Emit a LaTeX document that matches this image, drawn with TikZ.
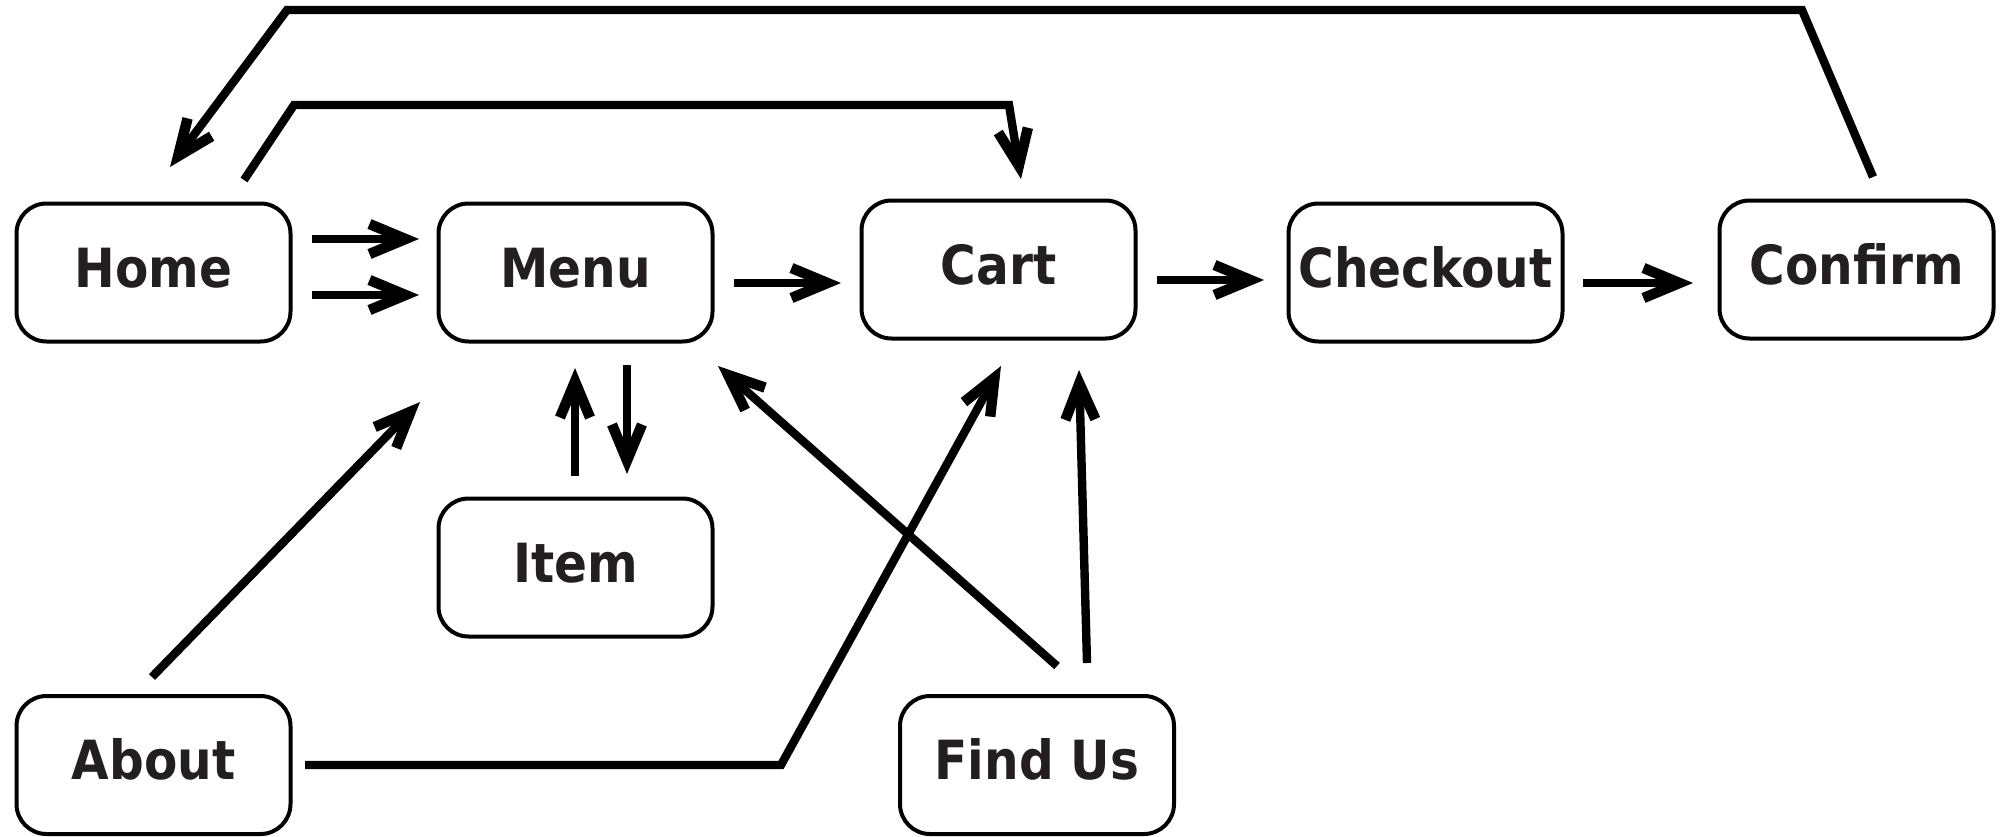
\documentclass[tikz,border=0pt]{standalone}
\usepackage{fontspec}
\usetikzlibrary{arrows.meta,calc}
\newfontfamily\lblfont{DejaVu Sans}[FakeStretch=0.9]
\definecolor{txt}{HTML}{231F20}
\begin{document}
\begin{tikzpicture}[x=0.5pt,y=-0.5pt,
  box/.style={draw=black,line width=2pt,rounded corners=15pt,
    minimum width=137pt,minimum height=69pt,inner sep=0pt,
    text height=20pt,text depth=5.5pt,text=txt,
    font=\lblfont\bfseries\fontsize{27}{30}\selectfont},
  arr/.style={line width=4.2pt,line join=miter,
    -{Straight Barb[length=18pt,width=15pt,line width=5.2pt]}}]
\useasboundingbox (0,0) rectangle (2002,836);
\node[box] (home) at (153.5,272.5) {Home};
\node[box] (menu) at (575.5,272.5) {Menu};
\node[box] (cart) at (998.5,269.5) {Cart};
\node[box] (checkout) at (1425.5,272.5) {Checkout};
\node[box] (confirm) at (1856.5,269.5) {Confirm};
\node[box] (item) at (575.5,567.5) {Item};
\node[box] (about) at (153.5,765) {About};
\node[box] (findus) at (1037,765) {Find Us};
% horizontal flow
\draw[arr] ($(home)+(158.5,-33.5)$) -- ($(menu)+(-156.5,-33.5)$);
\draw[arr] ($(home)+(158.5,22.5)$) -- ($(menu)+(-156.5,22.5)$);
\draw[arr] ($(menu)+(158.5,10.5)$) -- ($(cart)+(-157.5,13.5)$);
\draw[arr] ($(cart)+(158.5,10.5)$) -- ($(checkout)+(-161.5,7.5)$);
\draw[arr] ($(checkout)+(157.5,10.5)$) -- ($(confirm)+(-163.5,13.5)$);
% top loops
\draw[arr] ($(confirm)+(16.5,-92.5)$) -- (1802,10) -- (287,10) -- ($(home)+(16.5,-105.5)$);
\draw[arr] ($(home)+(90.5,-92.5)$) -- (294,105) -- (1009,105) -- ($(cart)+(22.5,-90.5)$);
% menu <-> item
\draw[arr] ($(item)+(-0.5,-91.5)$) -- ($(menu)+(-0.5,95.5)$);
\draw[arr] ($(menu)+(51.5,92.5)$) -- ($(item)+(51.5,-93.5)$);
% about
\draw[arr] ($(about)+(-1.5,-88)$) -- ($(menu)+(-155.5,129.5)$);
\draw[arr] ($(about)+(151.5,0)$) -- (781,765) -- ($(cart)+(2.5,96.5)$);
% find us
\draw[arr] ($(findus)+(20,-99)$) -- ($(menu)+(142.5,93.5)$);
\draw[arr] ($(findus)+(50,-102)$) -- ($(cart)+(80.5,100.5)$);
\end{tikzpicture}
\end{document}
